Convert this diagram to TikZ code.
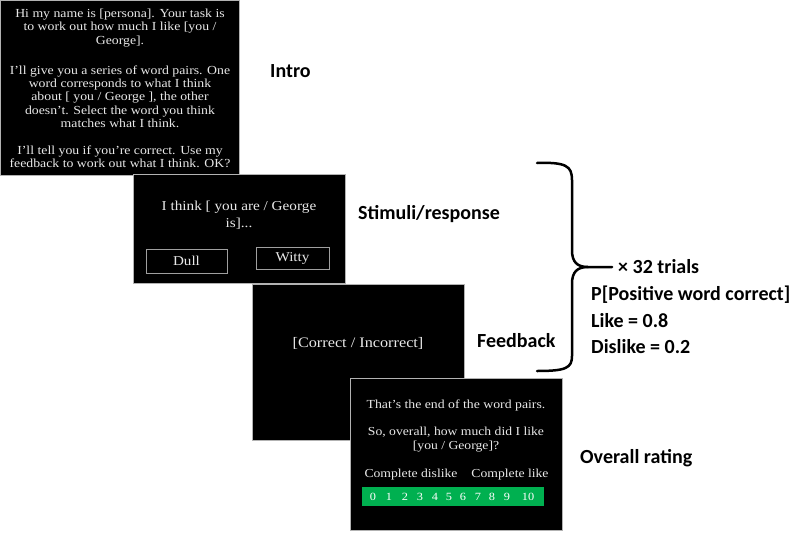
\documentclass[tikz,border=0pt]{standalone}
\usepackage{fontspec}
\setmainfont{Liberation Serif}[FakeStretch=1.12]
\newfontfamily\labelfont{Carlito}
\usepackage{tikz}
\usetikzlibrary{positioning}
\definecolor{scalegreen}{RGB}{0,176,80}
\definecolor{screenink}{RGB}{232,232,232}
\tikzstyle{screen} = [draw=gray!60, fill=black, line width=0.8pt, anchor=north west]
\tikzstyle{screentext} = [text=screenink, align=center, font=\fontsize{12.3}{13.3}\selectfont]
\tikzstyle{button} = [draw=gray!75, line width=1pt, text=screenink, font=\fontsize{13.5}{15}\selectfont]
\tikzstyle{phase} = [anchor=west, font=\labelfont\bfseries\fontsize{20}{23}\selectfont]
\tikzstyle{digit} = [text=white, font=\fontsize{11}{12}\selectfont]

\begin{document}
\begin{tikzpicture}[x=1pt,y=1pt]
        \tikzstyle{every node}+=[inner sep=0pt]
        \useasboundingbox (0,0) rectangle (795,-533);
        % screens
        \node [screen, minimum width=239pt, minimum height=175pt] (intro) at (0,0) {};
        \node [screen, minimum width=212pt, minimum height=109pt] (stim) at (133,-174) {};
        \node [screen, minimum width=212pt, minimum height=156pt] (feed) at (252,-284) {};
        \node [screen, minimum width=212pt, minimum height=152pt] (rate) at (350,-378) {};
        % intro text
        \draw (120,-28) node [screentext] (introa) {Hi my name is [persona]. Your task is\\to work out how much I like [you /\\George].};
        \draw (120,-96.5) node [screentext] (introb) {I'll give you a series of word pairs. One\\word corresponds to what I think\\about [ you / George ], the other\\doesn't. Select the word you think\\matches what I think.};
        \draw (120,-157) node [screentext] (introc) {I'll tell you if you're correct. Use my\\feedback to work out what I think. OK?};
        % stimuli/response
        \draw (239,-215) node [screentext, font=\fontsize{13.6}{16.5}\selectfont] (stimq) {I think [ you are / George\\is]...};
        \node [button, minimum width=81pt, minimum height=24pt] (dull) at (186.5,-261) {Dull};
        \node [button, minimum width=73pt, minimum height=22pt] (witty) at (292.5,-258) {Witty};
        % feedback
        \draw (358,-343) node [screentext, font=\fontsize{14.5}{16}\selectfont] (feedtext) {[Correct / Incorrect]};
        % overall rating
        \draw (456,-405) node [screentext] (ratea) {That's the end of the word pairs.};
        \draw (456,-440) node [screentext, font=\fontsize{12.2}{14}\selectfont] (rateb) {So, overall, how much did I like\\{}[you / George]?};
        \draw (411,-475) node [screentext, font=\fontsize{12.2}{14}\selectfont] (dislike) {Complete dislike};
        \draw (510,-475) node [screentext, font=\fontsize{12.2}{14}\selectfont] (like) {Complete like};
        \fill [scalegreen] (362,-487) rectangle (544,-506);
        \foreach \x/\n in {373/0,389/1,405/2,420/3,435/4,449/5,463/6,478/7,492/8,507/9,528/10}
                \draw (\x,-496.5) node [digit] (d\n) {\n};
        % phase labels
        \draw (270,-71) node [phase] (introlbl) {Intro};
        \draw (358,-214) node [phase] (stimlbl) {Stimuli/response};
        \draw (477,-341) node [phase] (feedlbl) {Feedback};
        \draw (580,-458) node [phase] (ratelbl) {Overall rating};
        % brace over the repeated trial
        \draw [line width=2.5pt, line cap=round] (537,-163) .. controls (566,-162) and (572,-166) .. (572,-180)
                -- (572,-250) .. controls (572,-262) and (577,-267) .. (588,-267) -- (612,-267);
        \draw [line width=2.5pt, line cap=round] (588,-267) .. controls (577,-267) and (572,-272) .. (572,-284)
                -- (572,-356) .. controls (572,-368) and (566,-371) .. (537,-371);
        \coordinate (tip) at (612,-267);
        \node [phase, right=6pt of tip] (trials) {× 32 trials};
        \draw (591,-295) node [phase] (pword) {P[Positive word correct]};
        \draw (591,-321) node [phase] (plike) {Like = 0.8};
        \draw (591,-347) node [phase] (pdislike) {Dislike = 0.2};
\end{tikzpicture}
\end{document}
